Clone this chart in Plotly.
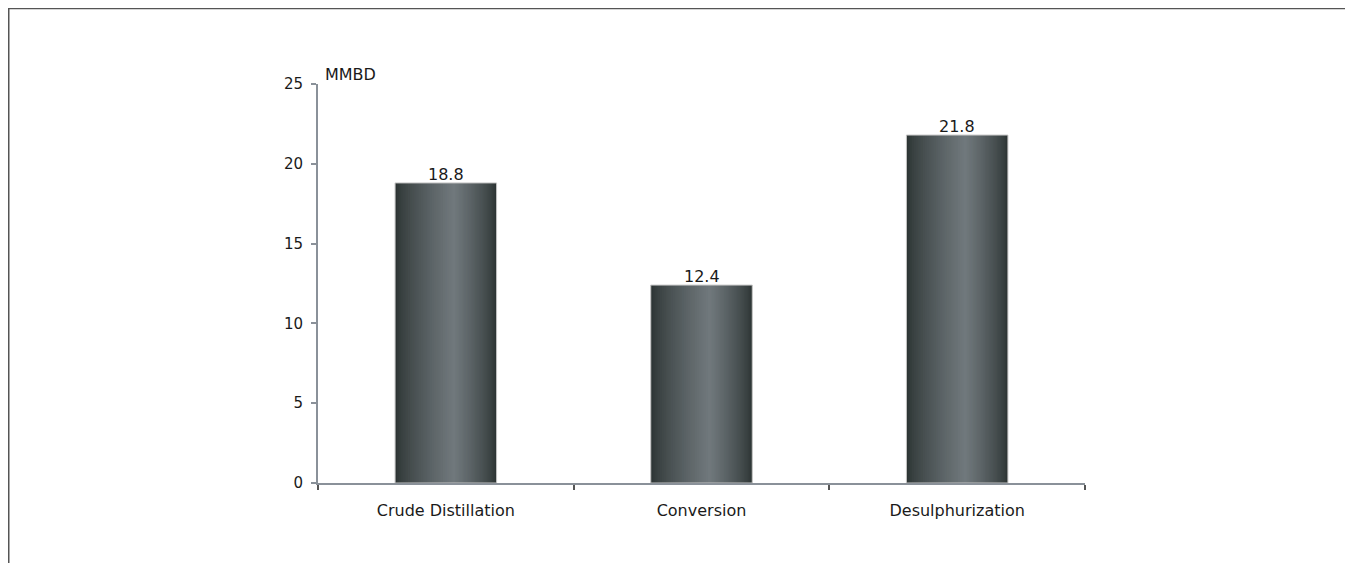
import plotly.graph_objects as go

categories = ["Crude Distillation", "Conversion", "Desulphurization"]
values = [18.8, 12.4, 21.8]
value_labels = ["18.8", "12.4", "21.8"]
unit_label = "MMBD"
y_ticks = [0, 5, 10, 15, 20, 25]

W, H = 1353, 563
ML, MR, MT, MB = 310, 276, 76, 88
PW, PH = W - ML - MR, H - MT - MB

FONT = "DejaVu Sans, Verdana, sans-serif"

bar_w = 0.397
n_layers = 32
dark = (44, 52, 51)
light = (112, 120, 124)
peak = 0.58

fig = go.Figure()
for k in range(n_layers):
    a = peak * k / n_layers
    b = 1 - (1 - peak) * k / n_layers
    f = (k / (n_layers - 1)) ** 0.75
    c = tuple(int(round(dark[i] + (light[i] - dark[i]) * f)) for i in range(3))
    fig.add_trace(go.Bar(
        x=categories, y=values,
        width=(b - a) * bar_w, offset=-bar_w / 2 + a * bar_w,
        marker=dict(color="rgb(%d,%d,%d)" % c, line=dict(width=0)),
        hoverinfo="skip", showlegend=False,
    ))

fig.add_trace(go.Bar(
    x=categories, y=values, width=bar_w, offset=-bar_w / 2,
    marker=dict(color="rgba(0,0,0,0)", line=dict(color="#c4c4c4", width=1)),
    showlegend=False, name="", hovertemplate="%{x}: %{y}<extra></extra>",
))

for cat, val, lab in zip(categories, values, value_labels):
    fig.add_annotation(text=lab, x=cat, y=val, xref="x", yref="y",
                       xanchor="center", yanchor="bottom", yshift=-3,
                       showarrow=False,
                       font=dict(family=FONT, size=16, color="#1a1a1a"))

fig.add_annotation(text=unit_label, xref="paper", yref="y", x=0, y=max(y_ticks),
                   xanchor="left", yanchor="bottom", xshift=5, yshift=-2,
                   showarrow=False,
                   font=dict(family=FONT, size=16, color="#1a1a1a"))


def px_x(px):
    return (px - ML) / PW


def px_y(py):
    return (H - MB - py) / PH


fig.add_shape(type="rect", xref="paper", yref="paper",
              x0=px_x(0.75), x1=px_x(1344),
              y0=px_y(600), y1=px_y(0.6),
              line=dict(color="#555", width=1.5), fillcolor="rgba(0,0,0,0)",
              layer="below")

fig.update_layout(
    width=W, height=H,
    margin=dict(l=ML, r=MR, t=MT, b=MB),
    barmode="overlay",
    plot_bgcolor="white", paper_bgcolor="white",
    showlegend=False,
    font=dict(family=FONT, size=16, color="#1a1a1a"),
    xaxis=dict(
        showline=True, linecolor="#8a9199", linewidth=2,
        ticks="outside", tickson="boundaries", ticklen=5, tickwidth=2,
        tickcolor="#555", showgrid=False, zeroline=False,
        tickfont=dict(family=FONT, size=16, color="#1a1a1a"),
        ticklabelstandoff=12,
    ),
    yaxis=dict(
        range=[0, 25], tickvals=y_ticks,
        showline=True, linecolor="#8a9199", linewidth=2,
        ticks="outside", ticklen=5, tickwidth=2, tickcolor="#8a9199",
        showgrid=False, zeroline=False,
        tickfont=dict(family=FONT, size=15, color="#1a1a1a"),
        ticklabelstandoff=5,
    ),
)

fig.write_html("out.html")
